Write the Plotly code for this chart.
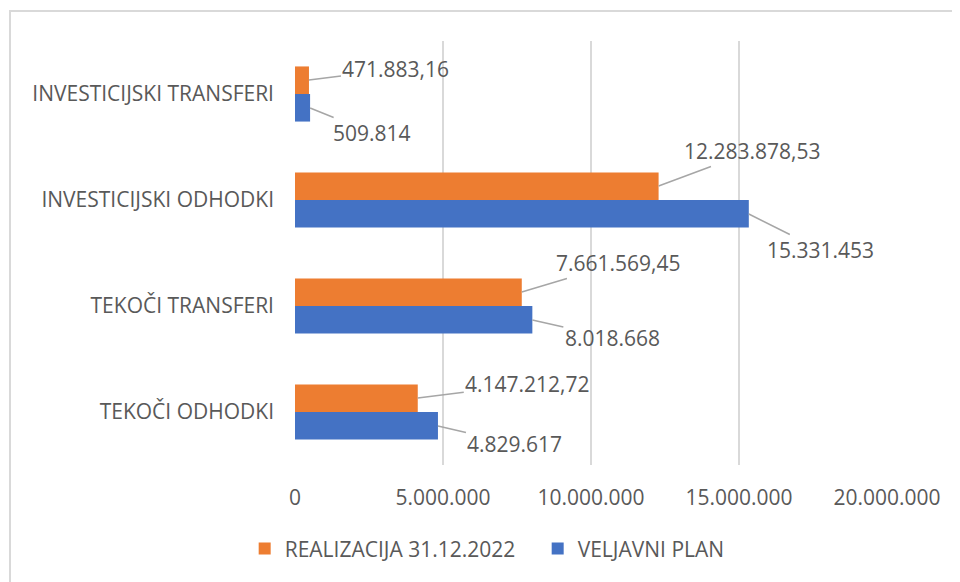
import plotly.graph_objects as go

categories = ["TEKOČI ODHODKI", "TEKOČI TRANSFERI", "INVESTICIJSKI ODHODKI", "INVESTICIJSKI TRANSFERI"]
plan_values = [4829617, 8018668, 15331453, 509814]
real_values = [4147212.72, 7661569.45, 12283878.53, 471883.16]
plan_name = "VELJAVNI PLAN"
real_name = "REALIZACIJA 31.12.2022"
x_ticks = [0, 5000000, 10000000, 15000000, 20000000]

# label offsets (pixels) for leader lines
real_offsets = [(110, -14), (97, -29), (94, -35), (87, -11)]
plan_offsets = [(77, 18), (80, 18), (72, 36), (62, 25)]


def fmt_int(v):
    return f"{v:,.0f}".replace(",", ".")


def fmt_dec(v):
    s = f"{v:,.2f}"
    return s.replace(",", "X").replace(".", ",").replace("X", ".")


BLUE = "#4472C4"
ORANGE = "#ED7D31"
GRAY = "#595959"
FONT = "Open Sans"

fig = go.Figure()
fig.add_trace(go.Bar(y=categories, x=plan_values, orientation="h", name=plan_name,
                     marker=dict(color=BLUE, line=dict(width=0))))
fig.add_trace(go.Bar(y=categories, x=real_values, orientation="h", name=real_name,
                     marker=dict(color=ORANGE, line=dict(width=0))))

bar_half = 14
annotations = []
for i, c in enumerate(categories):
    ax, ay = real_offsets[i]
    annotations.append(dict(x=real_values[i], y=c, yshift=bar_half, text=fmt_dec(real_values[i]),
                            showarrow=True, arrowhead=0, arrowwidth=1.5, arrowcolor="#a6a6a6",
                            ax=ax, ay=ay, font=dict(size=21, color=GRAY, family=FONT)))
    ax, ay = plan_offsets[i]
    annotations.append(dict(x=plan_values[i], y=c, yshift=-bar_half, text=fmt_int(plan_values[i]),
                            showarrow=True, arrowhead=0, arrowwidth=1.5, arrowcolor="#a6a6a6",
                            ax=ax, ay=ay, font=dict(size=21, color=GRAY, family=FONT)))

fig.update_layout(
    width=960, height=582,
    margin=dict(l=287, r=81, t=33, b=125),
    paper_bgcolor="white", plot_bgcolor="white",
    barmode="group", bargap=0.48, bargroupgap=0,
    separators=",.",
    font=dict(family=FONT, size=21, color=GRAY),
    showlegend=True,
    legend=dict(orientation="h", x=-0.085, xanchor="left", y=-0.198, yanchor="middle",
                traceorder="reversed", font=dict(size=21, color=GRAY),
                itemwidth=30, itemsizing="constant", entrywidth=248),
    annotations=annotations,
    shapes=[dict(type="rect", xref="paper", yref="paper", x0=-0.4814, x1=1.3, y0=-0.5, y1=1.0708,
                 line=dict(color="#d9d9d9", width=2), layer="below")],
)
fig.update_xaxes(range=[0, 20000000], tickvals=x_ticks, tickformat=",d",
                 showgrid=True, gridcolor="#d9d9d9", gridwidth=1.5,
                 zeroline=False, showline=False, ticks="",
                 ticklabelstandoff=18, tickfont=dict(size=21, color=GRAY))
fig.update_yaxes(showgrid=False, zeroline=False, showline=False, ticks="",
                 ticklabelstandoff=20, tickfont=dict(size=21, color=GRAY))

fig.write_html("out.html")
